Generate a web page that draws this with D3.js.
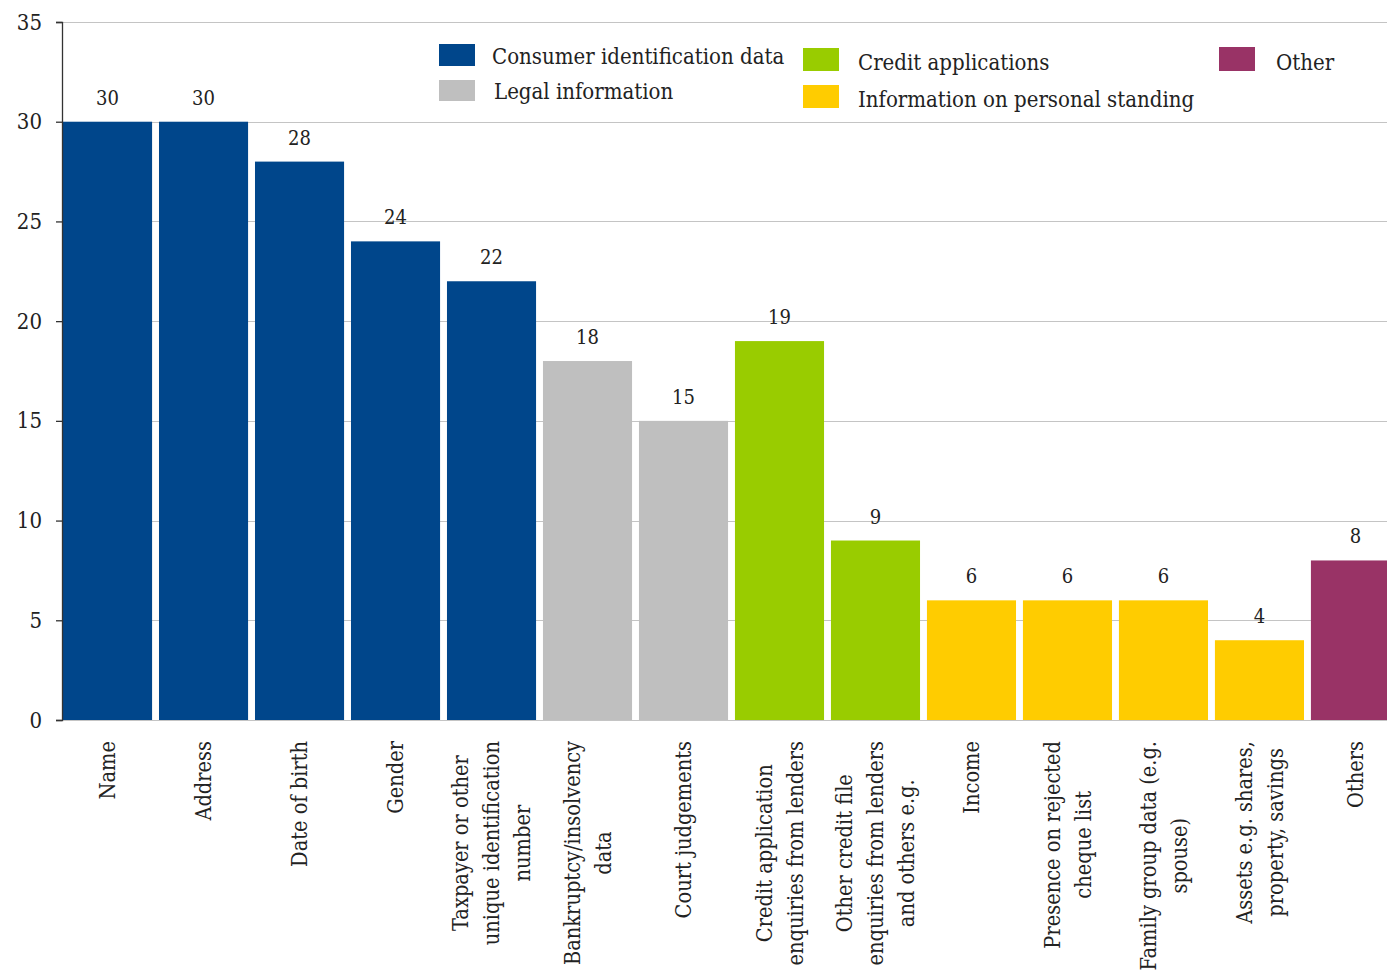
<!DOCTYPE html>
<html>
<head>
<meta charset="utf-8">
<script src="https://cdn.jsdelivr.net/npm/d3@7"></script>
<style>
  html, body { margin: 0; padding: 0; background: #fff; }
  svg { display: block; }
  text { font-family: "DejaVu Serif Condensed", "DejaVu Serif", serif; font-stretch: condensed; fill: #222; }
</style>
</head>
<body>
<svg id="chart" width="1387" height="975"></svg>
<script>
// Categories (label lines) and their counts
const categories = [
  ["Name"],
  ["Address"],
  ["Date of birth"],
  ["Gender"],
  ["Taxpayer or other", "unique identification", "number"],
  ["Bankruptcy/insolvency", "data"],
  ["Court judgements"],
  ["Credit application", "enquiries from lenders"],
  ["Other credit file", "enquiries from lenders", "and others e.g."],
  ["Income"],
  ["Presence on rejected", "cheque list"],
  ["Family group data (e.g.", "spouse)"],
  ["Assets e.g. shares,", "property, savings"],
  ["Others"]
];
const values = [30, 30, 28, 24, 22, 18, 15, 19, 9, 6, 6, 6, 4, 8];
const groupOf = [0, 0, 0, 0, 0, 1, 1, 2, 2, 3, 3, 3, 3, 4];

const groupNames = [
  "Consumer identification data",
  "Legal information",
  "Credit applications",
  "Information on personal standing",
  "Other"
];
const groupColors = ["#00468b", "#bfbfbf", "#99cc00", "#ffcc00", "#993366"];

const yTicks = [0, 5, 10, 15, 20, 25, 30, 35];

const svg = d3.select("#chart");
const plotLeft = 62, plotTop = 22, plotBottom = 720, plotRight = 1387;

const x = d3.scaleBand()
  .domain(d3.range(categories.length))
  .range([63, 1400])
  .paddingInner(0.072)
  .paddingOuter(0);

const y = d3.scaleLinear().domain([0, 35]).range([plotBottom, plotTop]);

// horizontal gridlines
svg.append("g")
  .selectAll("line")
  .data(yTicks)
  .join("line")
  .attr("x1", plotLeft).attr("x2", plotRight)
  .attr("y1", d => Math.round(y(d)) + 0.5)
  .attr("y2", d => Math.round(y(d)) + 0.5)
  .attr("stroke", "#c4c4c4")
  .attr("stroke-width", 1.2);

// bars
svg.append("g")
  .selectAll("rect")
  .data(values)
  .join("rect")
  .attr("x", (d, i) => x(i))
  .attr("width", x.bandwidth())
  .attr("y", d => y(d))
  .attr("height", d => y(0) - y(d))
  .attr("fill", (d, i) => groupColors[groupOf[i]]);

// value labels
svg.append("g")
  .selectAll("text")
  .data(values)
  .join("text")
  .attr("x", (d, i) => x(i) + x.bandwidth() / 2)
  .attr("y", d => y(d) - 17)
  .attr("text-anchor", "middle")
  .attr("font-size", 20)
  .text(d => d);

// y axis
const yAxis = d3.axisLeft(y).tickValues(yTicks).tickSize(6).tickPadding(14);
const ya = svg.append("g").attr("transform", `translate(${plotLeft},0)`).call(yAxis);
ya.select(".domain").attr("stroke", "#333").attr("stroke-width", 1.3);
ya.selectAll(".tick line").attr("stroke", "#333").attr("stroke-width", 1.3);
ya.selectAll(".tick text")
  .attr("font-family", null)
  .attr("font-size", 22)
  .attr("fill", "#222");

// category labels, rotated, lines centred on the longest line
const lineH = 31;
const gap = 21;
const labels = svg.append("g").attr("font-size", 21.6);
categories.forEach((lines, i) => {
  const cx = x(i) + x.bandwidth() / 2;
  const g = labels.append("g")
    .attr("transform", `translate(${cx},${plotBottom}) rotate(-90)`);
  const texts = lines.map((ln, k) => g.append("text")
    .attr("text-anchor", "middle")
    .attr("dy", "0.35em")
    .attr("y", (k - (lines.length - 1) / 2) * lineH)
    .text(ln));
  const wMax = d3.max(texts, t => t.node().getComputedTextLength());
  texts.forEach(t => t.attr("x", -(gap + wMax / 2)));
});

// legend
const legendItems = [
  { g: 0, sx: 439, sy: 44, sh: 22, tx: 492, ty: 56 },
  { g: 1, sx: 439, sy: 80, sh: 21, tx: 494, ty: 91 },
  { g: 2, sx: 803, sy: 48, sh: 23, tx: 858, ty: 62 },
  { g: 3, sx: 803, sy: 85, sh: 23, tx: 858, ty: 99 },
  { g: 4, sx: 1219, sy: 47, sh: 24, tx: 1276, ty: 62 }
];
const lg = svg.append("g");
legendItems.forEach(it => {
  lg.append("rect")
    .attr("x", it.sx).attr("y", it.sy)
    .attr("width", 36).attr("height", it.sh)
    .attr("fill", groupColors[it.g]);
  lg.append("text")
    .attr("x", it.tx).attr("y", it.ty)
    .attr("dy", "0.35em")
    .attr("font-size", 22)
    .text(groupNames[it.g]);
});
</script>
</body>
</html>
